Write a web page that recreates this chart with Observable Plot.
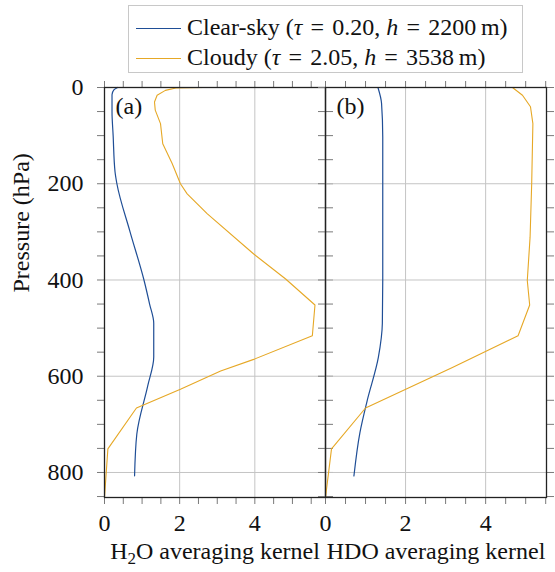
<!DOCTYPE html>
<html>
<head>
<meta charset="utf-8">
<script src="https://cdn.jsdelivr.net/npm/d3@7"></script>
<script src="https://cdn.jsdelivr.net/npm/@observablehq/plot@0.6"></script>
<style>
  html, body { margin: 0; padding: 0; background: white; }
  #wrap { position: relative; width: 555px; height: 572px; font-family: "Liberation Serif", Tinos, "Times New Roman", Times, "DejaVu Serif", serif; }
  #wrap svg { position: absolute; top: 0; }
  #legend { position: absolute; left: 128px; top: 5px; width: 393px; height: 66px; border: 1px solid #c8c8c8; background: white; font-size: 24px; color: #111; }
  .row { position: absolute; left: 0; height: 30px; white-space: nowrap; }
  .swatch { position: absolute; left: 7px; width: 45px; height: 0; }
  .lab { position: absolute; left: 58px; line-height: 30px; }
  .eq { margin: 0 0.34em; }
</style>
</head>
<body>
<div id="wrap"></div>
<script>
// ---- data ----
const seriesNames = ["Clear-sky", "Cloudy"];
const seriesTau = ["0.20", "2.05"];
const seriesH = ["2200", "3538"];
const seriesColors = ["#1f4e96", "#e6a826"];

// Panel (a): H2O averaging kernel
const clearA_p = [0, 5, 15, 50, 100, 175, 200, 300, 400, 450, 490, 560, 620, 720, 807];
const clearA_v = [0.35, 0.25, 0.2, 0.2, 0.23, 0.28, 0.33, 0.68, 1.05, 1.2, 1.31, 1.31, 1.15, 0.86, 0.8];
const cloudA_p = [0, 1, 6, 16, 30, 47, 75, 117, 158, 200, 221, 262, 346, 398, 452, 516, 565, 589, 627, 666, 751, 852];
const cloudA_v = [2.64, 1.9, 1.62, 1.4, 1.33, 1.35, 1.49, 1.55, 1.8, 2.02, 2.2, 2.73, 3.97, 4.82, 5.6, 5.53, 3.97, 3.09, 2.02, 0.85, 0.09, 0];

// Panel (b): HDO averaging kernel
const clearB_p = [0, 33, 103, 200, 400, 490, 561, 651, 717, 807];
const clearB_v = [1.31, 1.4, 1.43, 1.43, 1.43, 1.42, 1.32, 1.04, 0.86, 0.71];
const cloudB_p = [0, 16, 40, 75, 200, 311, 401, 452, 516, 582, 666, 751, 852];
const cloudB_v = [4.67, 4.92, 5.12, 5.18, 5.15, 5.11, 5.04, 5.1, 4.81, 3.17, 1.0, 0.15, 0];

const xTickLabels = [0, 2, 4];
const yTickLabels = [0, 200, 400, 600, 800];
const panelTags = ["(a)", "(b)"];
const xTitles = ["H2O averaging kernel", "HDO averaging kernel"];
const yTitle = "Pressure (hPa)";

const toRows = (p, v) => p.map((pp, i) => ({p: pp, v: v[i]}));

const font = '"Liberation Serif", Tinos, "Times New Roman", Times, "DejaVu Serif", serif';
const tickColor = "#7a7a7a";
const gridColor = "#c4c4c4";
const fs = 24;

function panel({rows, xmax, width, left, mLeft, mRight, tag, xTitle, showY}) {
  const minorX = d3.range(0, 5.51, 0.5);
  const minorY = d3.range(0, 851, 50);
  const marks = [
    Plot.gridX(xTickLabels.filter(d => d > 0), {stroke: gridColor, strokeOpacity: 1, strokeWidth: 1}),
    Plot.gridY(yTickLabels.filter(d => d > 0), {stroke: gridColor, strokeOpacity: 1, strokeWidth: 1}),
    Plot.axisX({anchor: "bottom", ticks: minorX, tickSize: 7, tickFormat: () => "", stroke: tickColor, label: null}),
    Plot.axisX({anchor: "top", ticks: minorX, tickSize: 7, tickFormat: () => "", stroke: tickColor, label: null}),
    Plot.axisY({anchor: "left", ticks: minorY, tickSize: 7, tickFormat: () => "", stroke: tickColor, label: null}),
    Plot.axisY({anchor: "right", ticks: minorY, tickSize: 7, tickFormat: () => "", stroke: tickColor, label: null}),
    Plot.axisX({anchor: "bottom", ticks: xTickLabels, tickSize: 0, tickPadding: 16, tickFormat: d => String(d), label: null, fill: "#111", fontFamily: font, fontSize: fs}),
    Plot.lineY(rows[0], {x: "v", y: "p", stroke: seriesColors[0], strokeWidth: 1.2, curve: "monotone-y"}),
    Plot.lineY(rows[1], {x: "v", y: "p", stroke: seriesColors[1], strokeWidth: 1.1}),
    Plot.frame({stroke: "#222", strokeWidth: 1.3}),
    Plot.text([tag], {frameAnchor: "top-left", dx: 11, dy: 9, fontSize: fs, fill: "#111", fontFamily: font}),
    Plot.text([xTitle], {frameAnchor: "bottom", dy: 61, fontSize: fs, fill: "#111", fontFamily: font})
  ];
  if (showY) {
    marks.push(Plot.axisY({anchor: "left", ticks: yTickLabels, tickSize: 0, tickPadding: 21, tickFormat: d => String(d), label: null, fill: "#111", fontFamily: font, fontSize: fs}));
    marks.push(Plot.text([yTitle], {frameAnchor: "left", dx: -83, rotate: -90, fontSize: fs, fill: "#111", fontFamily: font}));
  }
  const svg = Plot.plot({
    width, height: 572,
    marginLeft: mLeft, marginRight: mRight, marginTop: 87, marginBottom: 75,
    x: {domain: [0, xmax], label: null},
    y: {domain: [0, 852], reverse: true, label: null},
    style: {fontFamily: font, fontSize: fs + "px", background: "transparent", overflow: "visible", color: "#111"},
    marks
  });
  svg.style.left = left + "px";
  // subscript in H2O
  svg.querySelectorAll("text").forEach(t => {
    if (t.textContent === "H2O averaging kernel") {
      t.innerHTML = 'H<tspan dy="5" font-size="17">2</tspan><tspan dy="-5">O averaging kernel</tspan>';
    }
  });
  return svg;
}

const wrap = document.getElementById("wrap");
wrap.appendChild(panel({
  rows: [toRows(clearA_p, clearA_v), toRows(cloudA_p, cloudA_v)],
  xmax: 5.88, width: 335, left: 0, mLeft: 104, mRight: 10, tag: panelTags[0], xTitle: xTitles[0], showY: true
}));
wrap.appendChild(panel({
  rows: [toRows(clearB_p, clearB_v), toRows(cloudB_p, cloudB_v)],
  xmax: 5.52, width: 250, left: 305, mLeft: 20, mRight: 9, tag: panelTags[1], xTitle: xTitles[1], showY: false
}));

// legend
const legend = document.createElement("div");
legend.id = "legend";
seriesNames.forEach((name, i) => {
  const row = document.createElement("div");
  row.className = "row";
  row.style.top = (6 + i * 30) + "px";
  row.innerHTML = `<div class="swatch" style="top:16px;border-top:1.2px solid ${seriesColors[i]}"></div>` +
    `<div class="lab">${name} (<i>τ</i><span class="eq">=</span>${seriesTau[i]}, <i>h</i><span class="eq">=</span>${seriesH[i]}&thinsp;m)</div>`;
  legend.appendChild(row);
});
wrap.appendChild(legend);
</script>
</body>
</html>
